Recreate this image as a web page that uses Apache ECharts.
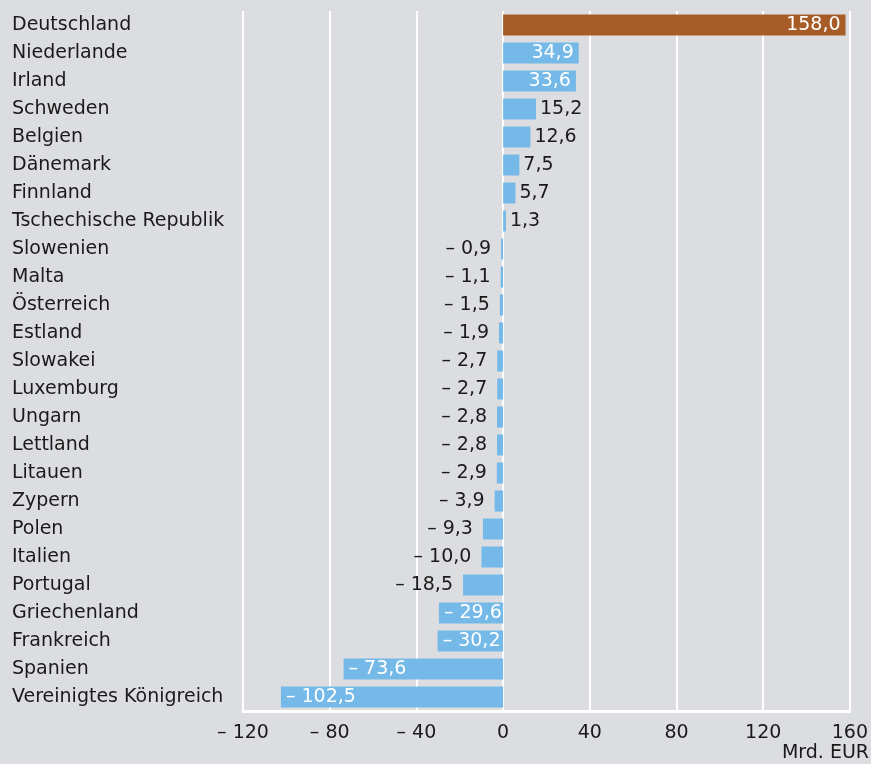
<!DOCTYPE html>
<html>
<head>
<meta charset="utf-8">
<script src="https://cdn.jsdelivr.net/npm/echarts@6/dist/echarts.min.js"></script>
<style>
  html, body { margin: 0; padding: 0; background: #dcdde0; }
  #chart { width: 871px; height: 764px; }
</style>
</head>
<body>
<div id="chart"></div>
<script>
// Leistungsbilanzsaldo nach Ländern, Mrd. EUR
const countries = [
  'Deutschland', 'Niederlande', 'Irland', 'Schweden', 'Belgien', 'Dänemark',
  'Finnland', 'Tschechische Republik', 'Slowenien', 'Malta', 'Österreich',
  'Estland', 'Slowakei', 'Luxemburg', 'Ungarn', 'Lettland', 'Litauen',
  'Zypern', 'Polen', 'Italien', 'Portugal', 'Griechenland', 'Frankreich',
  'Spanien', 'Vereinigtes Königreich'
];
const values = [
  158.0, 34.9, 33.6, 15.2, 12.6, 7.5, 5.7, 1.3, -0.9, -1.1, -1.5, -1.9,
  -2.7, -2.7, -2.8, -2.8, -2.9, -3.9, -9.3, -10.0, -18.5, -29.6, -30.2,
  -73.6, -102.5
];
const highlighted = ['Deutschland'];
const axisMin = -120, axisMax = 160, axisStep = 40;
const unitLabel = 'Mrd. EUR';

const FONT = 'DejaVu Sans';
const FS = 19;
const TEXT = '#1a1a1a';
const BLUE = '#74b9e7';
const BROWN = '#a75c27';

function fmt(v) {
  const s = Math.abs(v).toFixed(1).replace('.', ',');
  return v < 0 ? '\u2013 ' + s : s;
}
function fmtTick(v) {
  return v < 0 ? '\u2013 ' + Math.abs(v) : String(v);
}

const seriesData = values.map((v, i) => {
  const big = Math.abs(v) >= 25;
  let position;
  if (v >= 0) position = big ? 'insideRight' : 'right';
  else position = big ? 'insideLeft' : 'left';
  return {
    value: v,
    itemStyle: { color: highlighted.includes(countries[i]) ? BROWN : BLUE },
    label: {
      show: true,
      position: position,
      distance: big ? 5 : (v >= 0 ? 4 : 10),
      color: big ? '#ffffff' : TEXT,
      fontFamily: FONT,
      fontSize: FS,
      formatter: () => fmt(v)
    }
  };
});

const chart = echarts.init(document.getElementById('chart'));
chart.setOption({
  backgroundColor: '#dcdde0',
  animation: false,
  title: {
    text: unitLabel,
    right: 2,
    bottom: 1,
    padding: 0,
    textStyle: { fontFamily: FONT, fontSize: FS, fontWeight: 'normal', color: TEXT }
  },
  grid: { left: 243, right: 21, top: 11, bottom: 53, containLabel: false },
  xAxis: {
    type: 'value',
    min: axisMin,
    max: axisMax,
    interval: axisStep,
    axisLine: { show: true, onZero: false, lineStyle: { color: '#ffffff', width: 3 } },
    axisTick: { show: false },
    splitLine: { show: true, lineStyle: { color: '#ffffff', width: 2 } },
    axisLabel: {
      formatter: fmtTick,
      fontFamily: FONT,
      fontSize: FS,
      color: TEXT,
      margin: 13
    }
  },
  yAxis: {
    type: 'category',
    data: countries,
    inverse: true,
    axisLine: { show: false },
    axisTick: { show: false },
    splitLine: { show: false },
    axisLabel: {
      align: 'left',
      margin: 231,
      fontFamily: FONT,
      fontSize: FS,
      color: TEXT
    }
  },
  series: [{
    type: 'bar',
    data: seriesData,
    barWidth: 21
  }]
});
</script>
</body>
</html>
